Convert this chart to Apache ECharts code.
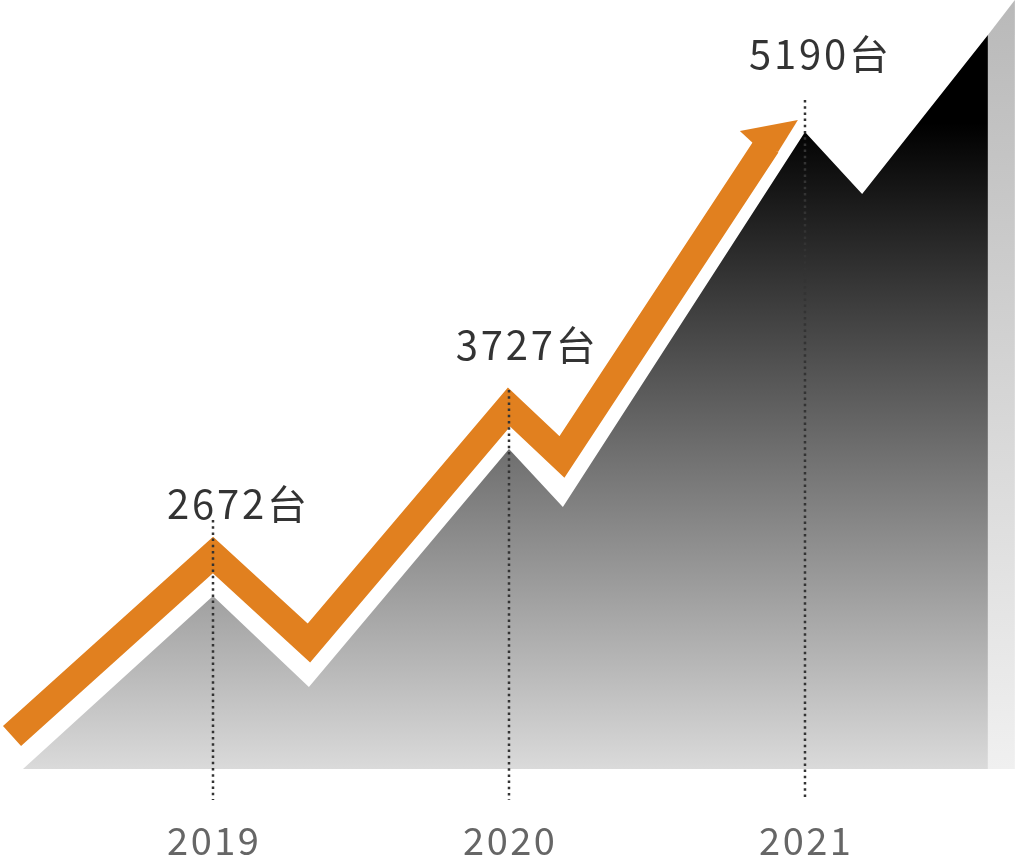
<!DOCTYPE html>
<html>
<head>
<meta charset="utf-8">
<script src="https://cdn.jsdelivr.net/npm/echarts@6/dist/echarts.min.js"></script>
<style>
html,body{margin:0;padding:0;background:#fff;}
#chart{width:1015px;height:856px;}
</style>
</head>
<body>
<div id="chart"></div>
<script>
// ---- data (x in year units, y in visual level units) ----
const years = [2019, 2020, 2021];
const sales = [2672, 3727, 5190];
const yearTicks = ['2019', '2020', '2021'];

// dark rising mountain (top edge)
const areaX = [2018.358, 2019.0, 2019.324, 2020.0, 2020.182, 2021.0, 2021.193, 2021.618];
const areaY = [87, 260, 169, 407, 349, 724, 662, 821];
// right side face of the mountain
const sideX = [2021.618, 2021.709];
const sideY = [821, 856];
// orange arrow shaft (centre line)
const arrowLineX = [2018.321, 2019.0, 2019.324, 2020.0, 2020.179, 2020.872];
const arrowLineY = [120, 301, 213, 449, 399, 711];
// orange arrow head
const headX = [2020.780, 2020.976, 2020.909, 2020.831];
const headY = [725, 736, 704, 711];
// dotted guide lines (top level per year, common bottom)
const guideTop = [336, 466, 756];
const guideBottom = 56;
// value label anchors
const labelX = [2019.081, 2020.057, 2021.047];
const labelY = [352, 511, 802];

const ORANGE = '#E1801F';
const BASE = 87;
const FONT = '"Noto Sans CJK SC", "Noto Sans", sans-serif';

// spread characters (letter spacing) using rich text fragments
const spaced = (s, key) => Array.from(s).map(ch => '{' + key + '|' + ch + '}').join('');

const chart = echarts.init(document.getElementById('chart'), null, {renderer: 'canvas'});

const series = [];
series.push({
  type: 'line', z: 1, silent: true, showSymbol: false, symbol: 'none',
  data: areaX.map((x, i) => [x, areaY[i]]),
  lineStyle: {width: 0},
  areaStyle: {
    origin: BASE, opacity: 1,
    color: {type: 'linear', x: 0, y: 0, x2: 0, y2: 1,
      colorStops: [{offset: 0, color: '#000'}, {offset: 0.12, color: '#000'}, {offset: 1, color: '#dadada'}]}
  }
});
series.push({
  type: 'line', z: 1, silent: true, showSymbol: false, symbol: 'none',
  data: sideX.map((x, i) => [x, sideY[i]]),
  lineStyle: {width: 0},
  areaStyle: {
    origin: BASE, opacity: 1,
    color: {type: 'linear', x: 0, y: 0, x2: 0, y2: 1,
      colorStops: [{offset: 0, color: '#b9b9b9'}, {offset: 1, color: '#f0f0f0'}]}
  }
});
series.push({
  type: 'line', z: 2, silent: true, showSymbol: false, symbol: 'none',
  data: arrowLineX.map((x, i) => [x, arrowLineY[i]]),
  lineStyle: {width: 27, color: ORANGE, cap: 'butt', join: 'miter', miterLimit: 10}
});
series.push({
  type: 'custom', z: 3, silent: true,
  data: headX.map((x, i) => [x, headY[i]]),
  renderItem: function (params, api) {
    if (params.dataIndex !== 0) return null;
    const pts = headX.map((x, i) => api.coord([x, headY[i]]));
    return {type: 'polygon', shape: {points: pts}, style: {fill: ORANGE}};
  }
});
years.forEach((yr, i) => {
  series.push({
    type: 'line', z: 4, silent: true, showSymbol: false, symbol: 'none',
    data: [[yr, guideTop[i]], [yr, guideBottom]],
    lineStyle: {width: 2.5, color: '#333', type: [2.5, 3.7], cap: 'butt'}
  });
});
series.push({
  type: 'scatter', z: 5, silent: true, symbolSize: 1,
  itemStyle: {color: 'rgba(0,0,0,0)'},
  data: labelX.map((x, i) => [x, labelY[i]]),
  label: {
    show: true, position: 'inside',
    formatter: p => spaced(sales[p.dataIndex] + '台', 'c'),
    rich: {c: {fontSize: 40, color: '#000', fontFamily: FONT, padding: [0, 1.4]}}
  }
});

chart.setOption({
  animation: false,
  backgroundColor: '#fff',
  grid: {left: 0, right: 0, top: 0, bottom: 34, containLabel: false, outerBoundsMode: 'none'},
  xAxis: {
    type: 'value', min: 2018.2804, max: 2021.7095,
    axisLine: {show: false}, axisTick: {show: false}, splitLine: {show: false},
    axisLabel: {
      show: true, customValues: years, margin: 19, verticalAlign: 'middle',
      formatter: v => spaced(yearTicks[years.indexOf(Math.round(v))] || '', 'y'),
      rich: {y: {fontSize: 38, color: '#666', fontFamily: FONT, padding: [0, 1.25]}}
    }
  },
  yAxis: {
    type: 'value', min: 34, max: 856, show: false,
    splitLine: {show: false}
  },
  series: series
});
</script>
</body>
</html>
